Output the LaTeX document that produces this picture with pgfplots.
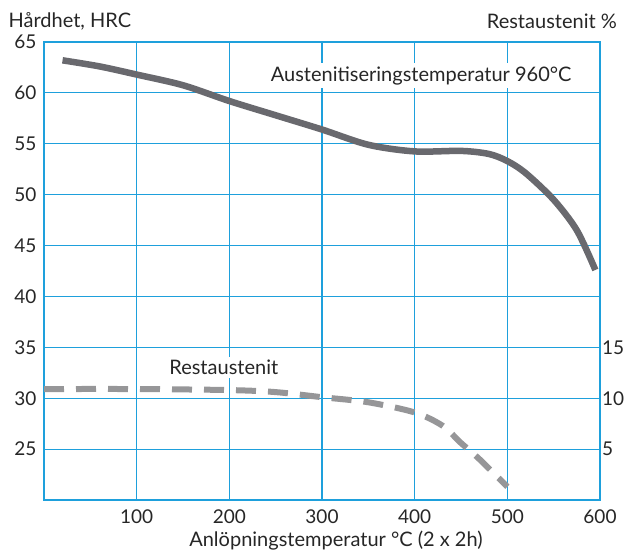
\documentclass[border=0pt]{standalone}
\usepackage{fontspec}
\setmainfont{Lato}
\usepackage{pgfplots}
\pgfplotsset{compat=1.18}
\definecolor{gridblue}{RGB}{30,160,220}
\definecolor{hardgray}{RGB}{105,105,110}
\definecolor{dashgray}{RGB}{150,150,152}
\newcommand\fs{\fontsize{19}{19}\selectfont}
\newcommand\fl{\fontsize{20}{20}\selectfont}
\begin{document}
\begin{tikzpicture}[x=1pt,y=1pt]
\path[use as bounding box] (-44,-53) rectangle (581,500);
\begin{axis}[
  scale only axis, width=556pt, height=458pt,
  anchor=south west, at={(0,0)},
  xmin=0, xmax=600, ymin=20, ymax=65,
  xtick={100,200,...,600}, ytick={25,30,...,65},
  major tick length=0pt,
  grid=major,
  major grid style={gridblue, line width=1.2pt},
  axis line style={gridblue, line width=1.5pt},
  tick label style={font=\fs, text=black!85},
  /pgf/number format/assume math mode=true,
  xticklabel style={yshift=-6pt},
  yticklabel style={xshift=-4pt},
  xlabel={Anlöpningstemperatur °C (2 x 2h)},
  xlabel style={font=\fl, text=black!85, yshift=-1pt, xshift=14pt},
  clip=false,
]
\addplot[hardgray, line width=6.5pt, smooth, tension=0.5] coordinates {
(20,63.2) (60,62.6) (100,61.8) (150,60.75) (200,59.2) (250,57.8) (300,56.4)
(350,54.9) (400,54.25) (450,54.3) (480,54.0) (500,53.3) (520,52.1) (550,49.5) (575,46.5) (595,42.6)
};
\node[fill=white, inner sep=3pt, font=\fl, text=black!85] at (axis cs:407,61.7) {Austenitiseringstemperatur 960°C};
\node[fill=white, inner sep=3pt, font=\fl, text=black!85] at (axis cs:194,33.0) {Restaustenit};
\node[anchor=west, font=\fl, text=black!85] at (axis cs:-42,67.0) {Hårdhet, HRC};
\node[anchor=east, font=\fl, text=black!85] at (axis cs:622,67.0) {Restaustenit \%};
\end{axis}
\begin{axis}[
  scale only axis, width=556pt, height=458pt,
  anchor=south west, at={(0,0)},
  xmin=0, xmax=600, ymin=0, ymax=45,
  axis x line=none, axis y line*=right,
  axis line style={draw=none},
  ytick={5,10,15},
  major tick length=0pt,
  tick label style={font=\fs, text=black!85},
  /pgf/number format/assume math mode=true,
  yticklabel style={xshift=-1.5pt},
]
\addplot[dashgray, line width=6pt, dash pattern=on 20pt off 12pt, smooth, tension=0.5] coordinates {
(0,10.9) (100,10.9) (200,10.8) (250,10.6) (300,10.1) (350,9.6) (400,8.6) (430,7.3) (450,5.6) (470,4.0) (500,1.3)
};
\end{axis}
\end{tikzpicture}
\end{document}
